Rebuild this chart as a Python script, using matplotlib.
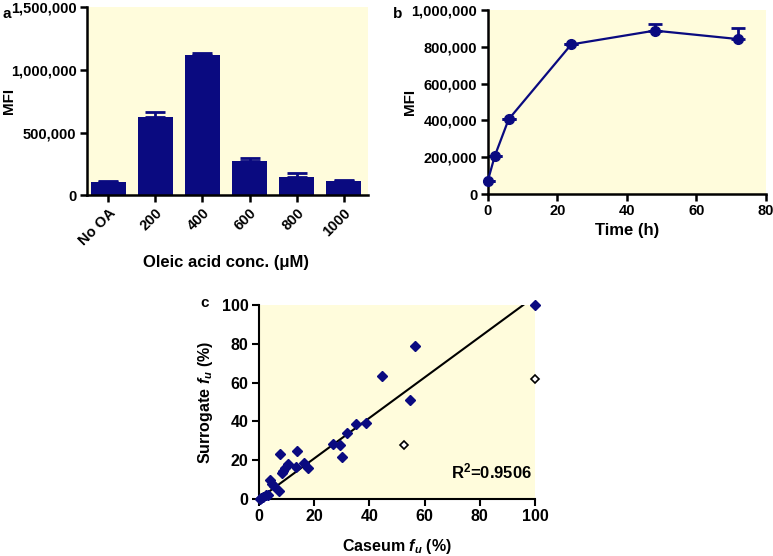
import matplotlib
matplotlib.use("Agg")
import matplotlib.pyplot as plt
import numpy as np

plt.rcParams['font.family'] = ['Liberation Sans', 'DejaVu Sans']
plt.rcParams['font.weight'] = 'bold'
plt.rcParams['mathtext.fontset'] = 'custom'
plt.rcParams['mathtext.it'] = 'Liberation Sans:italic:bold'
plt.rcParams['mathtext.bf'] = 'Liberation Sans:bold'
plt.rcParams['mathtext.rm'] = 'Liberation Sans:bold'

BG = '#FFFCDC'
NAVY = '#0A0A80'

# Panel a
a_categories = ['No OA', '200', '400', '600', '800', '1000']
a_values = [106000, 622000, 1120000, 271000, 144000, 112000]
a_errors = [3000, 45000, 18000, 22000, 29000, 10000]

# Panel b
b_time = [0, 2, 6, 24, 48, 72]
b_values = [71000, 206000, 406000, 813000, 888000, 842000]
b_errors = [0, 0, 0, 0, 34000, 58000]

# Panel c
c_caseum = [100, 56.5, 44.6, 54.7, 35.0, 38.7, 31.8, 26.7, 29.3, 30.2, 7.6, 13.9,
            16.4, 17.6, 13.6, 10.6, 9.6, 8.8, 8.4, 4.0, 4.8, 7.2, 2.7, 1.5, 0.2, 0.6,
            3.2, 5.5]
c_surrogate = [100, 78.8, 63.2, 50.9, 38.5, 39.1, 34.2, 28.2, 27.9, 21.8, 23.0, 24.6,
               18.7, 15.9, 16.6, 17.9, 15.9, 14.2, 13.3, 9.8, 7.9, 4.1, 1.9, 1.0, 0.0, 0.6,
               2.2, 6.5]
c_open_caseum = [52.7, 100]
c_open_surrogate = [27.7, 62.0]
c_fit_x = [0, 95.8]
c_fit_y = [0, 100]
c_r2 = '0.9506'

fig = plt.figure(figsize=(7.73, 5.56), dpi=100)

def style(ax, lw=1.8, labelsize=10.5):
    ax.set_facecolor(BG)
    for s in ['top', 'right']:
        ax.spines[s].set_visible(False)
    for s in ['left', 'bottom']:
        ax.spines[s].set_linewidth(lw)
        ax.spines[s].set_color('black')
    ax.tick_params(width=lw, length=5, labelsize=labelsize, direction='out', pad=2.5)
    for lab in ax.get_xticklabels() + ax.get_yticklabels():
        lab.set_fontweight('bold')

fmt = matplotlib.ticker.FuncFormatter(lambda v, p: f"{int(v):,}")

# ---- a
axa = fig.add_axes([0.1125, 0.649, 0.3635, 0.338])
x = np.arange(len(a_categories))
axa.bar(x, a_values, width=0.74, color=NAVY, zorder=2)
axa.errorbar(x, a_values, yerr=[np.zeros(len(a_errors)), a_errors], fmt='none',
             ecolor=NAVY, elinewidth=2, capsize=7, capthick=2, zorder=1)
axa.set_xlim(-0.45, 5.51)
axa.set_ylim(0, 1500000)
axa.set_yticks([0, 500000, 1000000, 1500000])
axa.yaxis.set_major_formatter(fmt)
axa.set_xticks(x)
axa.set_xticklabels(a_categories, rotation=45, ha='right', rotation_mode='anchor')
style(axa)
axa.set_ylabel('MFI', fontsize=11, fontweight='bold')
axa.yaxis.set_label_coords(-0.252, 0.5)
axa.set_xlabel('Oleic acid conc. (\u03bcM)', fontsize=12, fontweight='bold')
axa.xaxis.set_label_coords(0.494, -0.32)
fig.text(0.003, 0.987, 'a', fontsize=11, fontweight='bold', va='top')

# ---- b
axb = fig.add_axes([0.631, 0.651, 0.360, 0.331])
axb.errorbar(b_time, b_values, yerr=[np.zeros(len(b_errors)), b_errors], fmt='none',
             ecolor=NAVY, elinewidth=2, capsize=5, capthick=2, zorder=2)
axb.plot(b_time, b_values, '-o', color=NAVY, lw=1.6, markersize=7, clip_on=False, zorder=3)
axb.set_xlim(0, 80)
axb.set_ylim(0, 1000000)
axb.set_yticks(np.arange(0, 1000001, 200000))
axb.set_xticks([0, 20, 40, 60, 80])
axb.yaxis.set_major_formatter(fmt)
style(axb)
axb.set_ylabel('MFI', fontsize=11, fontweight='bold')
axb.yaxis.set_label_coords(-0.255, 0.5)
axb.set_xlabel('Time (h)', fontsize=12, fontweight='bold')
axb.xaxis.set_label_coords(0.5, -0.155)
fig.text(0.508, 0.987, 'b', fontsize=11, fontweight='bold', va='top')

# ---- c
axc = fig.add_axes([0.335, 0.1025, 0.357, 0.349])
axc.plot(c_fit_x, c_fit_y, color='black', lw=1.5, zorder=2)
axc.plot(c_caseum, c_surrogate, 'D', color=NAVY, markersize=5.5, clip_on=False, zorder=3)
axc.plot(c_open_caseum, c_open_surrogate, 'D', markerfacecolor='white',
         markeredgecolor='black', markeredgewidth=1.2, markersize=4.5, clip_on=False, zorder=3)
axc.set_xlim(0, 100)
axc.set_ylim(0, 100)
axc.set_xticks(np.arange(0, 101, 20))
axc.set_yticks(np.arange(0, 101, 20))
style(axc, lw=1.5, labelsize=11.5)
axc.set_ylabel('Surrogate $\\mathit{f_u}$ (%)', fontsize=11.5, fontweight='bold')
axc.yaxis.set_label_coords(-0.16, 0.5)
axc.set_xlabel('Caseum $\\mathit{f_u}$ (%)', fontsize=11.5, fontweight='bold')
axc.xaxis.set_label_coords(0.5, -0.197)
axc.text(98.8, 14.4, 'R$^\\mathbf{2}$=' + c_r2, fontsize=12, fontweight='bold', ha='right', va='center')
fig.text(0.259, 0.455, 'c', fontsize=11, fontweight='bold', va='center')

fig.savefig('out.png', dpi=100)
